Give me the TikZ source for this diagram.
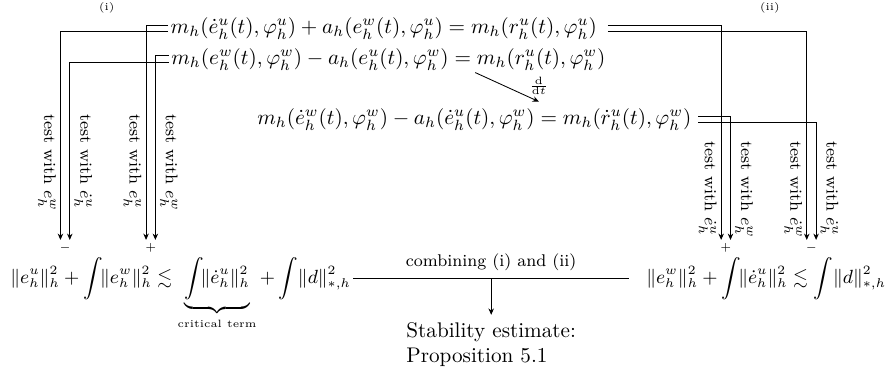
\documentclass[tikz,border=0pt]{standalone}
\usepackage{amsmath}
\usepackage{amssymb}
\usetikzlibrary{arrows.meta, positioning}
\tikzset{
  eqn/.style={inner sep=1pt},
  testlbl/.style={rotate=-90, font=\footnotesize, inner sep=2pt},
  sign/.style={font=\tiny, inner sep=1.5pt, anchor=north},
  tag/.style={font=\tiny},
  arrow/.style={-{Stealth[length=3pt, width=2.6pt]}},
}

\begin{document}
\begin{tikzpicture}
  \useasboundingbox (0,0) rectangle (14.78,-6.15);
  \node[tag] (ti) at (1.77,-0.13) {(i)};
  \node[tag] (tii) at (12.77,-0.13) {(ii)};
  % the three equations
  \node[eqn, anchor=west] (eq1) at (2.79,-0.47)
    {$m_h(\dot e_h^u(t),\varphi_h^u)+a_h(e_h^w(t),\varphi_h^u)=m_h(r_h^u(t),\varphi_h^u)$};
  \node[eqn, anchor=west] (eq2) at (2.80,-0.98)
    {$m_h(e_h^w(t),\varphi_h^w)-a_h(e_h^u(t),\varphi_h^w)=m_h(r_h^u(t),\varphi_h^w)$};
  \node[eqn, anchor=east] (eq3) at (11.51,-1.98)
    {$m_h(\dot e_h^w(t),\varphi_h^w)-a_h(\dot e_h^u(t),\varphi_h^w)=m_h(\dot r_h^u(t),\varphi_h^w)$};
  \draw[arrow] ([xshift=41pt]eq2.south) -- ([xshift=30.5pt,yshift=2pt]eq3.north)
    node[pos=1, above=0pt, font=\tiny] (ddt) {$\frac{\mathrm{d}}{\mathrm{d}t}$};
  % signs
  \node[sign] (mL) at (1.08,-3.98) {$-$};
  \node[sign] (pL) at (2.50,-3.98) {$+$};
  \node[sign] (pR) at (12.04,-3.98) {$+$};
  \node[sign] (mR) at (13.46,-3.98) {$-$};
  % testing
  \draw[arrow] ([yshift=1.5pt]eq1.west) -| ([xshift=-2.2pt]pL.north);
  \draw[arrow] ([yshift=-1.5pt]eq1.west) -| ([xshift=-2.2pt]mL.north);
  \draw[arrow] ([yshift=1.5pt]eq2.west) -| ([xshift=2.2pt]pL.north);
  \draw[arrow] ([yshift=-1.5pt]eq2.west) -| ([xshift=2.2pt]mL.north);
  \draw[arrow] ([xshift=4pt,yshift=1.5pt]eq1.east) -| ([xshift=-2.2pt]pR.north);
  \draw[arrow] ([xshift=4pt,yshift=-1.5pt]eq1.east) -| ([xshift=-2.2pt]mR.north);
  \draw[arrow] ([xshift=2pt,yshift=1.5pt]eq3.east) -| ([xshift=2.2pt]pR.north);
  \draw[arrow] ([xshift=2pt,yshift=-1.5pt]eq3.east) -| ([xshift=2.2pt]mR.north);
  \node[testlbl, anchor=north west] (t1) at (1.003,-1.82) {test with $e_h^w$};
  \node[testlbl, anchor=south west] (t2) at (1.157,-1.82) {test with $\dot e_h^u$};
  \node[testlbl, anchor=north west] (t3) at (2.423,-1.82) {test with $e_h^u$};
  \node[testlbl, anchor=south west] (t4) at (2.577,-1.82) {test with $e_h^w$};
  \node[testlbl, anchor=north west] (t5) at (11.963,-2.27) {test with $\dot e_h^u$};
  \node[testlbl, anchor=south west] (t6) at (12.117,-2.27) {test with $e_h^w$};
  \node[testlbl, anchor=north west] (t7) at (13.383,-2.27) {test with $\dot e_h^w$};
  \node[testlbl, anchor=south west] (t8) at (13.537,-2.27) {test with $\dot e_h^u$};
  % estimates
  \node[eqn, font=\small, anchor=base west] (lhs) at (0.13,-4.71)
    {$\displaystyle \|e_h^u\|_h^2+\int\!\!\|e_h^w\|_h^2\lesssim\underbrace{\int\!\!\|\dot e_h^u\|_h^2}_{\text{\tiny critical term}}+\int\!\|d\|_{*,h}^2$};
  \node[eqn, font=\small, anchor=base east] (rhs) at (14.74,-4.71)
    {$\displaystyle \|e_h^w\|_h^2+\int\!\!\|\dot e_h^u\|_h^2\lesssim\int\!\|d\|_{*,h}^2$};
  \draw ([yshift=2.5pt]lhs.base east) -- coordinate[pos=0.5] (cmb)
    node[above, font=\footnotesize] {combining (i) and (ii)}
    ([xshift=-7pt,yshift=2.5pt]rhs.base west);
  \node[align=left, below=0.6cm of cmb] (stab) {Stability estimate:\\Proposition 5.1};
  \draw[arrow] (cmb) -- (stab);
\end{tikzpicture}
\end{document}
